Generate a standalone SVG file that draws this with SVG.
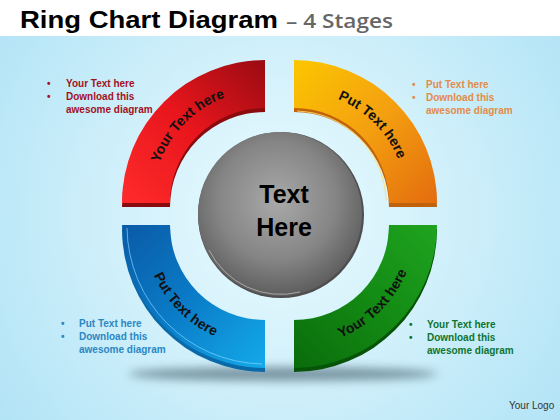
<svg xmlns="http://www.w3.org/2000/svg" width="560" height="420" viewBox="0 0 560 420">
<defs>
<style>
.title{font-family:"Liberation Sans",Arial,sans-serif;font-weight:bold;font-size:24px;fill:#000}
.sub{font-family:"Open Sans","Liberation Sans",sans-serif;font-weight:600;font-size:20px;fill:#666}
.bl{font-family:"Liberation Sans",Arial,sans-serif;font-weight:bold;font-size:10px}
.arc{font-family:"Liberation Sans",Arial,sans-serif;font-weight:bold;font-size:14px;fill:#111}
.ctr{font-family:"Liberation Sans",Arial,sans-serif;font-weight:bold;font-size:25px;fill:#000}
.logo{font-family:"Liberation Sans",Arial,sans-serif;font-size:10px;fill:#333}
</style>
<radialGradient id="bg" cx="280" cy="214" r="340" gradientUnits="userSpaceOnUse">
<stop offset="0" stop-color="#eafaff"/><stop offset="0.45" stop-color="#d3f1fb"/><stop offset="1" stop-color="#b3e4f6"/>
</radialGradient>
<linearGradient id="gRed" x1="0" y1="1" x2="1" y2="0"><stop offset="0" stop-color="#ff2b2b"/><stop offset="0.5" stop-color="#e8161c"/><stop offset="1" stop-color="#9a0a12"/></linearGradient>
<linearGradient id="gOr" x1="0" y1="0" x2="1" y2="1"><stop offset="0" stop-color="#fcc600"/><stop offset="0.5" stop-color="#f4a010"/><stop offset="1" stop-color="#e46c0e"/></linearGradient>
<linearGradient id="gGr" x1="1" y1="0" x2="0" y2="1"><stop offset="0" stop-color="#1fa41f"/><stop offset="0.5" stop-color="#138a14"/><stop offset="1" stop-color="#0a6c0b"/></linearGradient>
<linearGradient id="gBl" x1="0" y1="0" x2="1" y2="1"><stop offset="0" stop-color="#0a5aa6"/><stop offset="0.5" stop-color="#0a7cc8"/><stop offset="1" stop-color="#14aaea"/></linearGradient>
<radialGradient id="gC" cx="0.48" cy="0.42" r="0.6"><stop offset="0" stop-color="#a9a9a9"/><stop offset="0.6" stop-color="#858585"/><stop offset="1" stop-color="#5a5a5a"/></radialGradient>
<filter id="blur" x="-20%" y="-200%" width="140%" height="500%"><feGaussianBlur stdDeviation="5"/></filter>
<path id="pRed" d="M152,201 A113,113 0 0 1 263,90"/>
<path id="pOr" d="M296,90 A113,113 0 0 1 407,201"/>
<path id="pBl" d="M143,227.1 A122,122 0 0 0 262.9,347"/>
<path id="pGr" d="M296.1,347 A122,122 0 0 0 416,227.1"/>
</defs>

<rect x="0" y="0" width="560" height="420" fill="url(#bg)"/>
<rect x="0" y="0" width="560" height="36" fill="#ffffff"/>

<g id="title">
<text class="title" x="20" y="28" textLength="258" lengthAdjust="spacingAndGlyphs">Ring Chart Diagram</text>
<text class="sub" x="286" y="28" textLength="107" lengthAdjust="spacingAndGlyphs">– 4 Stages</text>
</g>

<ellipse cx="283" cy="374" rx="155" ry="7" fill="#3e5866" opacity="0.6" filter="url(#blur)"/>

<g id="connectors"/>

<g id="seg-red">
<path d="M122,207 A143,143 0 0 1 265,64 L265,112 A95,95 0 0 0 170,207 Z" fill="#8a0a0e"/>
<path d="M122,203 A143,143 0 0 1 265,60 L265,108 A95,95 0 0 0 170,203 Z" fill="url(#gRed)"/>
<text class="arc"><textPath href="#pRed" startOffset="50%" text-anchor="middle">Your Text here</textPath></text>
</g>

<g id="seg-orange">
<path d="M294,64 A143,143 0 0 1 437,207 L389,207 A95,95 0 0 0 294,112 Z" fill="#c0620c"/>
<path d="M294,60 A143,143 0 0 1 437,203 L389,203 A95,95 0 0 0 294,108 Z" fill="url(#gOr)"/>
<path d="M297,111 A92,92 0 0 1 386,200" fill="none" stroke="#ffe070" stroke-width="1.2" opacity="0.8"/>
<text class="arc"><textPath href="#pOr" startOffset="50%" text-anchor="middle">Put Text here</textPath></text>
</g>

<g id="seg-green">
<path d="M437,229 A143,143 0 0 1 294,372 L294,324 A95,95 0 0 0 389,229 Z" fill="#075408"/>
<path d="M437,225 A143,143 0 0 1 294,368 L294,320 A95,95 0 0 0 389,225 Z" fill="url(#gGr)"/>
<text class="arc"><textPath href="#pGr" startOffset="50%" text-anchor="middle">Your Text here</textPath></text>
</g>

<g id="seg-blue">
<path d="M265,372 A143,143 0 0 1 122,229 L170,229 A95,95 0 0 0 265,324 Z" fill="#0a6aa8"/>
<path d="M265,368 A143,143 0 0 1 122,225 L170,225 A95,95 0 0 0 265,320 Z" fill="url(#gBl)"/>
<path d="M127,228 A138,138 0 0 0 262,364" fill="none" stroke="#7fd4ff" stroke-width="1" opacity="0.7"/>
<text class="arc"><textPath href="#pBl" startOffset="50%" text-anchor="middle">Put Text here</textPath></text>
</g>

<g id="center">
<circle cx="281" cy="215" r="83" fill="#4e4e4e"/>
<circle cx="280" cy="214" r="82" fill="url(#gC)"/>
<path d="M209,250 A80,80 0 0 0 300,292" fill="none" stroke="#b8b8b8" stroke-width="1" opacity="0.8"/>
<text class="ctr" x="284" y="203" text-anchor="middle">Text</text>
<text class="ctr" x="284" y="236" text-anchor="middle">Here</text>
</g>

<g id="notes-red" class="bl" fill="#a3101e">
<text x="47" y="87">•</text>
<text x="47" y="100">•</text>
<text x="66" y="87">Your Text  here</text>
<text x="66" y="100">Download this</text>
<text x="66" y="113">awesome diagram</text>
</g>

<g id="notes-orange" class="bl" fill="#e38b4a">
<text x="412" y="88">•</text>
<text x="412" y="101">•</text>
<text x="426" y="88">Put Text here</text>
<text x="426" y="101">Download this</text>
<text x="426" y="114">awesome diagram</text>
</g>

<g id="notes-blue" class="bl" fill="#2a87c4">
<text x="61" y="327">•</text>
<text x="61" y="340">•</text>
<text x="79" y="327">Put Text  here</text>
<text x="79" y="340">Download this</text>
<text x="79" y="353">awesome diagram</text>
</g>

<g id="notes-green" class="bl" fill="#0e7430">
<text x="409" y="328">•</text>
<text x="409" y="341">•</text>
<text x="427" y="328">Your Text here</text>
<text x="427" y="341">Download this</text>
<text x="427" y="354">awesome diagram</text>
</g>

<g id="logo">
<text class="logo" x="509" y="409">Your Logo</text>
</g>
</svg>
